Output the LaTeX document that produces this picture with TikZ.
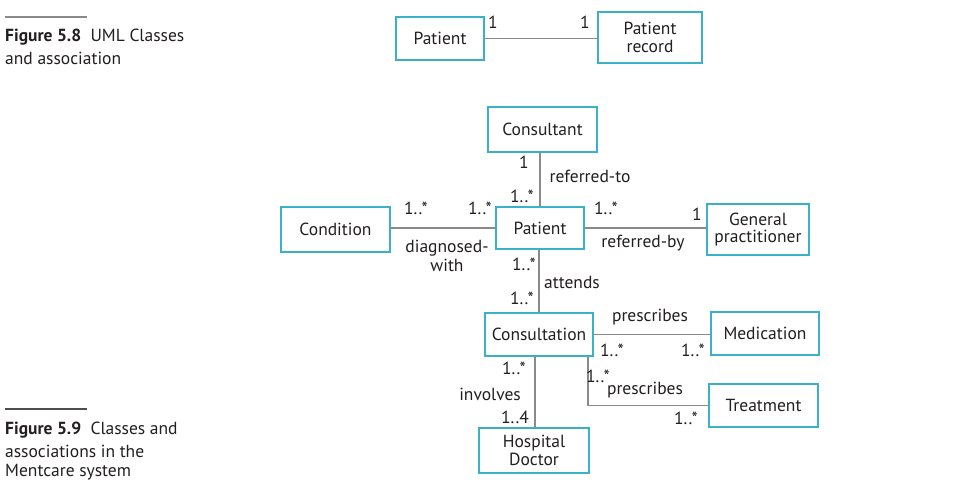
\documentclass[tikz,border=0pt]{standalone}
\usepackage{fontspec}
\setmainfont{PT Sans}
\definecolor{boxc}{HTML}{3BB0C9}
\definecolor{linec}{HTML}{8A8A8A}
\definecolor{txt}{HTML}{231F20}
\begin{document}
\begin{tikzpicture}[x=1pt,y=-1pt,
  every node/.style={text=txt, font=\fontsize{17.5}{19}\selectfont},
  cls/.style={draw=boxc, line width=2.3pt, inner sep=0pt, align=center, font=\fontsize{17.5}{17.5}\selectfont},
  lbl/.style={inner sep=0pt},
  assoc/.style={draw=linec, line width=1.5pt}]
\useasboundingbox (0,0) rectangle (978,500);
\fill[white] (0,0) rectangle (978,500);

% Captions
\draw[linec, line width=1.5pt] (5,17) -- (87,17);
\node[lbl, anchor=west] (c1a) at (5,37) {\textbf{Figure 5.8}\ \ UML Classes};
\node[lbl, anchor=west] (c1b) at (5,58) {and association};
\draw[txt!80, line width=1.2pt] (5,409) -- (87,409);
\node[lbl, anchor=west] (c2a) at (5,430) {\textbf{Figure 5.9}\ \ Classes and};
\node[lbl, anchor=west] (c2b) at (5,451) {associations in the};
\node[lbl, anchor=west] (c2c) at (5,472) {Mentcare system};

% Figure 5.8
\node[cls, minimum width=88, minimum height=43] (P0) at (440,38.5) {Patient};
\node[cls, minimum width=104, minimum height=51] (PR) at (650,37.5) {Patient\\record};
\draw[assoc] (P0.east) -- (P0.east -| PR.west);
\node[lbl] (m1) at (493,22) {1};
\node[lbl] (m2) at (585,22) {1};

% Figure 5.9
\node[cls, minimum width=109, minimum height=45] (Cons) at (542.5,129.5) {Consultant};
\node[cls, minimum width=109, minimum height=45] (Cond) at (335.5,229.5) {Condition};
\node[cls, minimum width=88, minimum height=42] (Pat) at (540,228) {Patient};
\node[cls, minimum width=102, minimum height=51] (GP) at (758,229.5) {General\\practitioner};
\node[cls, minimum width=108, minimum height=43] (Cst) at (539,334.5) {Consultation};
\node[cls, minimum width=108, minimum height=43] (Med) at (765,333.5) {Medication};
\node[cls, minimum width=109, minimum height=43] (Trt) at (763.5,405.5) {Treatment};
\node[cls, minimum width=110, minimum height=45] (HD) at (534,450.5) {Hospital\\Doctor};

% connectors
\draw[assoc] (Pat.north |- Cons.south) -- (Pat.north);
\draw[assoc] (Pat.west -| Cond.east) -- (Pat.west);
\draw[assoc] (Pat.east) -- (Pat.east -| GP.west);
\draw[assoc] ([xshift=-1pt]Pat.south) -- ([xshift=-1pt]Pat.south |- Cst.north);
\draw[assoc] (Cst.east) -- (Cst.east -| Med.west);
\draw[assoc] ([xshift=-6pt]Cst.south east) |- (Trt.west);
\draw[assoc] ([xshift=-4pt]Cst.south) -- ([xshift=-4pt]Cst.south |- HD.north);

% labels
\node[lbl] (l1) at (524,162) {1};
\node[lbl] (l2) at (590,176) {referred-to};
\node[lbl] (l3) at (522,196) {1..*};
\node[lbl] (l4) at (416,208) {1..*};
\node[lbl] (l5) at (480,208) {1..*};
\node[lbl] (l6) at (606,208) {1..*};
\node[lbl] (l7) at (697,214) {1};
\node[lbl, align=center] (l8) at (447,256) {diagnosed-\\with};
\node[lbl] (l9) at (643,243) {referred-by};
\node[lbl] (l10) at (524,264) {1..*};
\node[lbl] (l11) at (572,282) {attends};
\node[lbl] (l12) at (522,298) {1..*};
\node[lbl] (l13) at (650,317) {prescribes};
\node[lbl] (l14) at (612,350) {1..*};
\node[lbl] (l15) at (693,350) {1..*};
\node[lbl] (l16) at (598,376) {1..*};
\node[lbl] (l17) at (645,390) {prescribes};
\node[lbl] (l18) at (686,418) {1..*};
\node[lbl] (l19) at (514,368) {1..*};
\node[lbl] (l20) at (490,394) {involves};
\node[lbl] (l21) at (515,417) {1..4};
\end{tikzpicture}
\end{document}
